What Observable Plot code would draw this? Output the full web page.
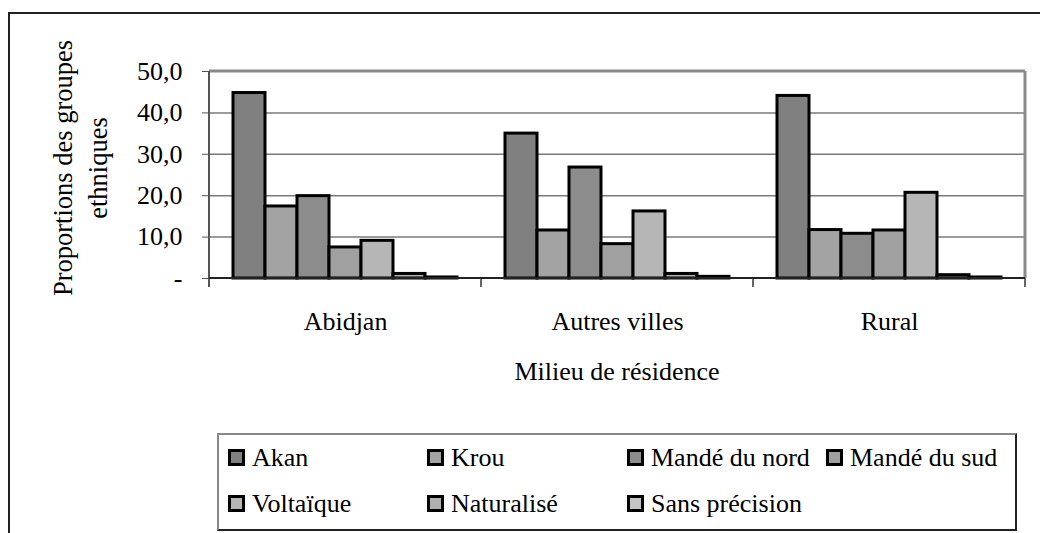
<!DOCTYPE html>
<html><head><meta charset="utf-8">
<script src="https://cdn.jsdelivr.net/npm/d3@7"></script>
<script src="https://cdn.jsdelivr.net/npm/@observablehq/plot@0.6"></script>
<style>
body{margin:0;background:#fff;font-family:"Liberation Serif","Times New Roman",serif;color:#000;}
#wrap{position:relative;width:1040px;height:533px;overflow:hidden;background:#fff;}
#frame{position:absolute;left:8px;top:12px;width:1100px;height:600px;border-left:2px solid #222;border-top:2px solid #222;}
#chart{position:absolute;left:0;top:0;}
#ytitle{position:absolute;left:-70px;top:134px;width:300px;height:68px;line-height:35px;font-size:26.5px;text-align:center;transform:rotate(-90deg);white-space:nowrap;}
#xtitle{position:absolute;left:417px;top:357px;width:400px;line-height:30px;font-size:26px;text-align:center;white-space:nowrap;}
#legend{position:absolute;left:217px;top:433px;width:796px;height:94px;border-top:2px solid #888;border-left:2px solid #888;border-right:2px solid #222;border-bottom:2px solid #222;}
.item{position:absolute;font-size:26px;line-height:30px;height:30px;white-space:nowrap;}
.sw{position:absolute;left:0;top:6px;width:11px;height:11px;border:3px solid #000;}
.lbl{position:absolute;left:24px;top:0;}
</style></head><body>
<div id="wrap">
<div id="frame"></div>
<div id="chart"></div>
<div id="ytitle">Proportions des groupes<br>ethniques</div>
<div id="xtitle">Milieu de résidence</div>
<div id="legend"></div>
</div>
<script>
const categories = ["Abidjan", "Autres villes", "Rural"];
const groups = ["Akan", "Krou", "Mandé du nord", "Mandé du sud", "Voltaïque", "Naturalisé", "Sans précision"];
const akan = [44.8, 35.0, 44.1];
const krou = [17.4, 11.6, 11.7];
const mandeNord = [19.9, 26.8, 10.8];
const mandeSud = [7.5, 8.3, 11.6];
const voltaique = [9.1, 16.2, 20.7];
const naturalise = [1.1, 1.1, 0.8];
const sansPrecision = [0.25, 0.4, 0.25];
const yTicks = [0, 10, 20, 30, 40, 50];
const yTickLabels = ["-", "10,0", "20,0", "30,0", "40,0", "50,0"];
const colors = ["#808080", "#a3a3a3", "#8c8c8c", "#a0a0a0", "#b6b6b6", "#b0b0b0", "#c4c4c4"];

const series = [akan, krou, mandeNord, mandeSud, voltaique, naturalise, sansPrecision];
const data = [];
categories.forEach((c, ci) => groups.forEach((g, gi) => data.push({cat: c, group: g, value: series[gi][ci]})));

const plot = Plot.plot({
  width: 1040, height: 420,
  marginLeft: 209, marginRight: 15, marginTop: 71, marginBottom: 142,
  style: {fontFamily: "Liberation Serif, Times New Roman, serif", fontSize: "26px", color: "#000", background: "transparent", overflow: "visible"},
  fx: {domain: categories, padding: 0, label: null},
  x: {domain: groups, paddingInner: 0, paddingOuter: 0.71, axis: null},
  y: {domain: [0, 50], label: null},
  color: {domain: groups, range: colors},
  marks: [
    Plot.gridY(yTicks.slice(1, -1), {stroke: "#7a7a7a", strokeOpacity: 1, strokeWidth: 1.5}),
    Plot.axisY(yTicks, {tickFormat: d => yTickLabels[yTicks.indexOf(d)], tickSize: 7, tickPadding: 20, fontSize: 26, stroke: "#555", label: null}),
    Plot.axisFx({anchor: "bottom", tickSize: 0, tickPadding: 33, fontSize: 26, label: null}),
    Plot.barY(data, {fx: "cat", x: "group", y: "value", fill: "group", stroke: "#000", strokeWidth: 3})
  ]
});
document.getElementById("chart").appendChild(plot);

// plot-area frame and category boundary ticks, from the plot's own scales
const fx = plot.scale("fx"), y = plot.scale("y");
const left = fx.apply(categories[0]);
const right = fx.apply(categories[categories.length - 1]) + fx.bandwidth;
const y0 = y.apply(0), yTop = y.apply(50);
const svg = d3.select(plot);
const g = svg.append("g");
g.append("line").attr("x1", left).attr("x2", right).attr("y1", yTop).attr("y2", yTop).attr("stroke", "#8a8a8a").attr("stroke-width", 3);
g.append("line").attr("x1", right).attr("x2", right).attr("y1", yTop).attr("y2", y0).attr("stroke", "#8a8a8a").attr("stroke-width", 3);
g.append("line").attr("x1", left).attr("x2", left).attr("y1", yTop).attr("y2", y0 + 9).attr("stroke", "#555").attr("stroke-width", 2);
g.append("line").attr("x1", left).attr("x2", right).attr("y1", y0).attr("y2", y0).attr("stroke", "#222").attr("stroke-width", 2);
categories.forEach(c => {
  const xe = fx.apply(c) + fx.bandwidth;
  g.append("line").attr("x1", xe).attr("x2", xe).attr("y1", y0).attr("y2", y0 + 9).attr("stroke", "#333").attr("stroke-width", 1.5);
});

// legend (4 equal columns, 2 rows)
const colLeft = [9, 208, 408, 607];
const rowTop = [8, 54];
const legend = document.getElementById("legend");
groups.forEach((gname, i) => {
  const d = document.createElement("div");
  d.className = "item";
  d.style.left = colLeft[i % 4] + "px";
  d.style.top = rowTop[Math.floor(i / 4)] + "px";
  const s = document.createElement("span");
  s.className = "sw";
  s.style.background = colors[i];
  const t = document.createElement("span");
  t.className = "lbl";
  t.textContent = gname;
  d.appendChild(s);
  d.appendChild(t);
  legend.appendChild(d);
});
</script>
</body></html>
